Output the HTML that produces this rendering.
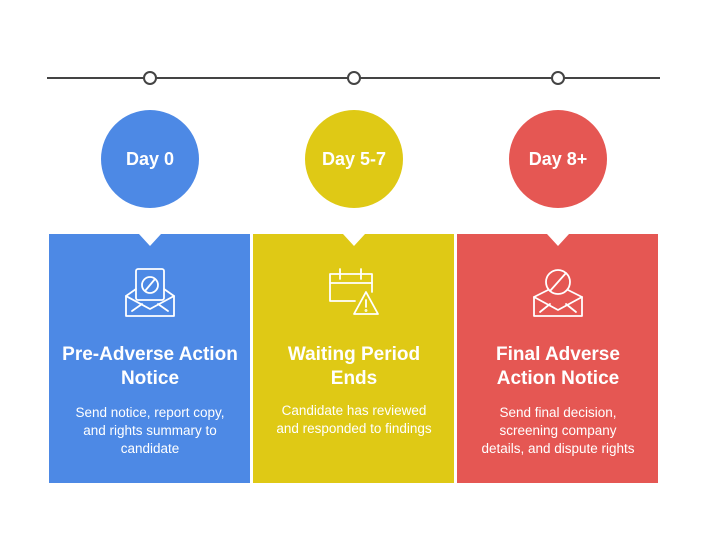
<!DOCTYPE html>
<html><head><meta charset="utf-8"><style>
body{margin:0;width:708px;height:533px;background:#fff;font-family:"Liberation Sans",sans-serif;overflow:hidden}
</style></head><body>
<svg width="708" height="533" xmlns="http://www.w3.org/2000/svg" font-family="Liberation Sans, sans-serif">
<line x1="47" y1="78" x2="660" y2="78" stroke="#444" stroke-width="2"/>
<g fill="#fff" stroke="#444" stroke-width="2">
<circle cx="150" cy="78" r="6"/><circle cx="354" cy="78" r="6"/><circle cx="558" cy="78" r="6"/>
</g>
<circle cx="150" cy="159" r="49" fill="#4d89e5"/>
<circle cx="354" cy="159" r="49" fill="#dfc915"/>
<circle cx="558" cy="159" r="49" fill="#e55753"/>
<g fill="#fff" font-weight="bold" font-size="18" text-anchor="middle">
<text x="150" y="165">Day 0</text><text x="354" y="165">Day 5-7</text><text x="558" y="165">Day 8+</text>
</g>
<rect x="49" y="234" width="201" height="249" fill="#4d89e5"/>
<rect x="253" y="234" width="201" height="249" fill="#dfc915"/>
<rect x="457" y="234" width="201" height="249" fill="#e55753"/>
<g fill="#fff">
<polygon points="139,234 161,234 150,246"/><polygon points="343,234 365,234 354,246"/><polygon points="547,234 569,234 558,246"/>
</g>
<g fill="none" stroke="#fff" stroke-width="1.8" stroke-linejoin="round" stroke-linecap="round">
<rect x="136" y="269" width="28" height="31" rx="2"/>
<circle cx="150" cy="285" r="8"/><line x1="145" y1="291" x2="155" y2="279"/>
<path d="M136,289 L126,296 V316 H174 V296 L164,289"/>
<path d="M126,296 L150,309 L174,296"/><path d="M132,311 L142,304 M168,311 L158,304"/>
<path d="M355,301 H330 V274 H372 V292"/><line x1="330" y1="283" x2="372" y2="283"/>
<line x1="340" y1="269" x2="340" y2="279"/><line x1="361" y1="269" x2="361" y2="279"/>
<path d="M366,292 L378,314 H354 Z"/><line x1="366" y1="300" x2="366" y2="307"/><circle cx="366" cy="310.5" r="0.5"/>
<circle cx="558" cy="282" r="12"/><line x1="550" y1="291" x2="566" y2="273"/>
<path d="M548,290 L534,297 V316 H582 V297 L568,290"/>
<path d="M534,297 L558,310 L582,297"/><path d="M540,312 L550,304 M576,312 L566,304"/>
</g>
<g fill="#fff" font-weight="bold" font-size="19" text-anchor="middle">
<text x="150" y="360">Pre-Adverse Action</text><text x="150" y="384">Notice</text>
<text x="354" y="360">Waiting Period</text><text x="354" y="384">Ends</text>
<text x="558" y="360">Final Adverse</text><text x="558" y="384">Action Notice</text>
</g>
<g fill="#fff" font-size="13.5" text-anchor="middle">
<text x="150" y="417">Send notice, report copy,</text><text x="150" y="435">and rights summary to</text><text x="150" y="453">candidate</text>
<text x="354" y="415">Candidate has reviewed</text><text x="354" y="433">and responded to findings</text>
<text x="558" y="417">Send final decision,</text><text x="558" y="435">screening company</text><text x="558" y="453">details, and dispute rights</text>
</g>
</svg>
</body></html>
